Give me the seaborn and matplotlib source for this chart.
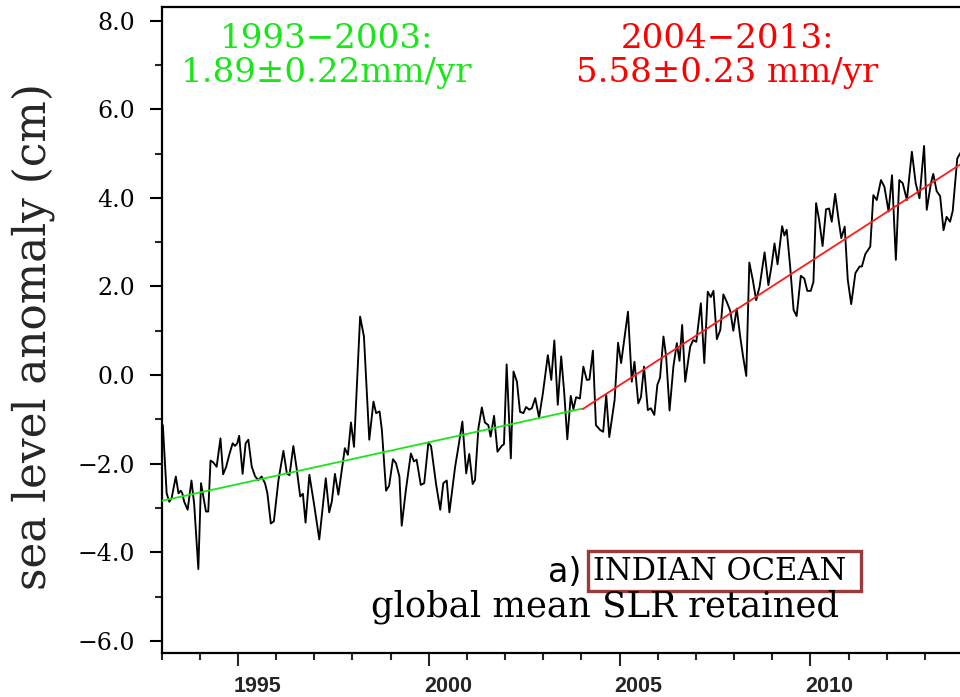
import matplotlib
matplotlib.use("Agg")
import matplotlib.pyplot as plt
import numpy as np
import pandas as pd
import seaborn as sns
from matplotlib.ticker import MultipleLocator, FixedLocator, FuncFormatter

# Indian Ocean sea level anomaly (cm), global mean SLR retained
years = [
    1993.03, 1993.13, 1993.20, 1993.26, 1993.37, 1993.44, 1993.50, 1993.54, 1993.59, 1993.68,
    1993.78, 1993.85, 1993.96, 1994.03, 1994.16, 1994.22, 1994.28, 1994.35, 1994.44, 1994.54,
    1994.61, 1994.69, 1994.77, 1994.86, 1994.92, 1994.98, 1995.03, 1995.12, 1995.20, 1995.27,
    1995.36, 1995.45, 1995.53, 1995.62, 1995.71, 1995.77, 1995.86, 1995.94, 1996.06, 1996.19,
    1996.28, 1996.35, 1996.45, 1996.54, 1996.63, 1996.70, 1996.77, 1996.87, 1996.99, 1997.13,
    1997.30, 1997.39, 1997.46, 1997.54, 1997.63, 1997.74, 1997.80, 1997.88, 1997.96, 1998.04,
    1998.20, 1998.30, 1998.44, 1998.55, 1998.62, 1998.71, 1998.77, 1998.88, 1998.96, 1999.06,
    1999.14, 1999.23, 1999.29, 1999.40, 1999.53, 1999.61, 1999.68, 1999.79, 1999.88, 1999.99,
    2000.06, 2000.19, 2000.30, 2000.38, 2000.47, 2000.54, 2000.69, 2000.77, 2000.88, 2000.98,
    2001.06, 2001.15, 2001.21, 2001.30, 2001.39, 2001.47, 2001.56, 2001.62, 2001.71, 2001.80,
    2001.91, 2001.97, 2002.04, 2002.15, 2002.22, 2002.31, 2002.39, 2002.48, 2002.55, 2002.63,
    2002.70, 2002.79, 2002.89, 2002.99, 2003.12, 2003.21, 2003.29, 2003.38, 2003.47, 2003.55,
    2003.63, 2003.72, 2003.79, 2003.86, 2003.96, 2004.05, 2004.14, 2004.21, 2004.30, 2004.38,
    2004.49, 2004.57, 2004.65, 2004.73, 2004.87, 2004.96, 2005.04, 2005.13, 2005.22, 2005.32,
    2005.39, 2005.49, 2005.56, 2005.64, 2005.74, 2005.82, 2005.91, 2005.99, 2006.06, 2006.15,
    2006.22, 2006.31, 2006.41, 2006.50, 2006.57, 2006.64, 2006.72, 2006.85, 2006.93, 2007.01,
    2007.13, 2007.22, 2007.31, 2007.39, 2007.46, 2007.55, 2007.64, 2007.72, 2007.81, 2007.90,
    2007.98, 2008.07, 2008.16, 2008.24, 2008.32, 2008.40, 2008.49, 2008.58, 2008.67, 2008.80,
    2008.90, 2008.98, 2009.06, 2009.14, 2009.26, 2009.32, 2009.38, 2009.47, 2009.56, 2009.64,
    2009.75, 2009.84, 2009.92, 2010.01, 2010.08, 2010.15, 2010.23, 2010.32, 2010.41, 2010.49,
    2010.56, 2010.65, 2010.74, 2010.81, 2010.90, 2010.98, 2011.07, 2011.18, 2011.29, 2011.35,
    2011.44, 2011.57, 2011.65, 2011.74, 2011.85, 2011.94, 2012.05, 2012.14, 2012.24, 2012.33,
    2012.42, 2012.53, 2012.66, 2012.76, 2012.86, 2012.98, 2013.05, 2013.16, 2013.22, 2013.31,
    2013.40, 2013.49, 2013.57, 2013.66, 2013.73, 2013.85, 2013.93,
]
anomaly = [
    -1.13, -2.67, -2.86, -2.78, -2.29, -2.67, -2.61, -2.67, -2.86, -3.04,
    -2.38, -2.90, -4.38, -2.44, -3.08, -3.08, -1.93, -1.97, -2.07, -1.43,
    -2.24, -2.07, -1.80, -1.54, -1.60, -1.54, -1.37, -2.23, -1.54, -1.46,
    -2.07, -2.29, -2.37, -2.29, -2.45, -2.67, -3.35, -3.30, -2.37, -1.71,
    -2.22, -2.26, -1.60, -2.13, -2.74, -2.68, -3.33, -2.25, -2.90, -3.71,
    -2.33, -3.10, -2.85, -2.23, -2.70, -2.03, -1.65, -1.80, -1.07, -1.62,
    1.32, 0.87, -1.46, -0.60, -0.86, -0.82, -1.24, -2.61, -2.50, -1.90,
    -1.99, -2.29, -3.40, -2.59, -1.77, -1.95, -1.91, -2.48, -2.44, -1.52,
    -1.61, -2.46, -3.04, -2.44, -2.38, -3.10, -2.07, -1.65, -1.05, -2.22,
    -1.78, -2.46, -2.37, -1.20, -0.73, -1.07, -1.13, -1.39, -0.92, -1.73,
    -1.60, -1.56, 0.24, -1.88, 0.08, -0.15, -0.83, -0.86, -0.72, -0.78,
    -0.75, -0.52, -0.96, -0.41, 0.45, -0.11, 0.78, -0.67, 0.42, -0.41,
    -1.45, -0.47, -0.77, -0.50, -0.53, 0.19, -0.11, -0.10, 0.55, -1.13,
    -1.24, -1.28, -0.45, -1.40, -0.56, 0.73, 0.27, 0.85, 1.43, -0.15,
    0.30, -0.64, -0.50, 0.19, -0.79, -0.75, -0.90, -0.22, -0.06, 0.87,
    0.42, -0.80, 0.19, 0.72, 0.32, 1.13, -0.15, 0.64, 0.79, 0.75,
    1.62, 0.27, 1.88, 1.76, 1.90, 0.81, 1.02, 1.82, 1.65, 1.45,
    1.00, 1.50, 0.87, 0.40, -0.02, 2.54, 2.15, 1.69, 2.00, 2.77,
    2.03, 2.45, 2.97, 2.50, 3.36, 3.15, 3.28, 2.45, 1.47, 1.33,
    2.24, 2.18, 1.90, 1.90, 2.10, 3.88, 3.50, 2.91, 3.74, 3.76,
    3.46, 4.09, 3.50, 3.09, 3.35, 2.15, 1.60, 2.30, 2.45, 2.45,
    2.73, 2.90, 4.06, 3.95, 4.40, 4.25, 3.69, 4.51, 2.60, 4.40,
    4.33, 3.95, 5.04, 4.33, 3.99, 5.17, 3.73, 4.33, 4.54, 4.15,
    4.04, 3.27, 3.57, 3.46, 3.70, 4.89, 5.01,
]

# Linear trends for the two periods
period_labels = ["1993\u22122003:", "2004\u22122013:"]
rate_labels = ["1.89\u00b10.22mm/yr", "5.58\u00b10.23 mm/yr"]
rates_mm_per_yr = [1.89, 5.58]
trend_start_year = [1993.0, 2004.03]
trend_end_year = [2004.0, 2013.93]
trend_start_cm = [-2.84, -0.77]
trend_colors = ["#19e619", "#ff1a1a"]
text_colors = ["#19e619", "#ff0000"]

year_ticks = [1995, 2000, 2005, 2010]

sns.set_style("ticks")
plt.rcParams["font.family"] = ["DejaVu Serif", "DejaVu Sans"]
plt.rcParams["axes.unicode_minus"] = True

fig = plt.figure(figsize=(9.6, 6.97), dpi=100)
W, H = 960.0, 697.0
x0, x1, y0, y1 = 161.7, 963.0, 653.3, 7.3
ax = fig.add_axes([x0 / W, 1 - y0 / H, (x1 - x0) / W, (y0 - y1) / H])

series = pd.DataFrame({"year": years, "sla": anomaly})
sns.lineplot(data=series, x="year", y="sla", ax=ax, color="black",
             linewidth=1.35, estimator=None, sort=False, zorder=3)

trend_rows = []
for i in range(2):
    for yr in (trend_start_year[i], trend_end_year[i]):
        val = trend_start_cm[i] + rates_mm_per_yr[i] / 10.0 * (yr - trend_start_year[i])
        trend_rows.append({"year": yr, "sla": val, "period": period_labels[i]})
trends = pd.DataFrame(trend_rows)
sns.lineplot(data=trends, x="year", y="sla", hue="period", palette=trend_colors,
             ax=ax, linewidth=1.3, estimator=None, legend=False, zorder=4)

ax.set_xlim(1993.0, 2014.0)
ax.set_ylim(-6.28, 8.3)
ax.set_xlabel("")
ax.set_ylabel("sea level anomaly (cm)", fontsize=31.5, family="DejaVu Serif")
ax.yaxis.set_label_coords((33 - x0) / (x1 - x0), (y0 - 336) / (y0 - y1))
ax.yaxis.label.set_verticalalignment("center")

for side in ("left", "bottom", "top"):
    ax.spines[side].set_linewidth(1.6)
    ax.spines[side].set_color("black")
ax.spines["right"].set_visible(False)

# y axis: major every 2 cm, minor every 1 cm
ax.yaxis.set_major_locator(MultipleLocator(2.0))
ax.yaxis.set_minor_locator(MultipleLocator(1.0))
ax.yaxis.set_major_formatter(FuncFormatter(lambda v, p: f"{v:.1f}".replace("-", "\u2212")))
ax.tick_params(axis="y", which="major", direction="out", length=9, width=1.5,
               pad=10, labelsize=17, colors="black")
ax.tick_params(axis="y", which="minor", direction="out", length=5, width=1.5)

# x axis: year ticks, long ticks every five years, labels centred in the year
ax.xaxis.set_major_locator(FixedLocator(year_ticks))
ax.xaxis.set_minor_locator(MultipleLocator(1.0))
ax.xaxis.set_major_formatter(FuncFormatter(lambda v, p: ""))
ax.tick_params(axis="x", which="major", direction="out", length=9, width=1.5)
ax.tick_params(axis="x", which="minor", direction="out", length=5, width=1.5)
ax.tick_params(top=False, right=False, which="both")

sec = ax.secondary_xaxis("bottom")
sec.set_xticks([y + 0.5 for y in year_ticks])
sec.set_xticklabels([str(y) for y in year_ticks], fontfamily="Liberation Sans",
                    fontweight="bold", fontsize=15.5)
sec.tick_params(length=0, pad=16)
sec.spines["bottom"].set_visible(False)

# trend annotations
text_x = [1997.33, 2007.82]
for i in range(2):
    ax.text(text_x[i], 7.58, period_labels[i], color=text_colors[i], fontsize=24.5,
            ha="center", va="center", family="DejaVu Serif")
    ax.text(text_x[i], 6.82, rate_labels[i], color=text_colors[i], fontsize=24.5,
            ha="center", va="center", family="DejaVu Serif")

ax.text(2003.55, -4.45, "a)", fontsize=24, ha="center", va="center",
        family="DejaVu Sans", color="black")
ax.text(2007.75, -4.43, "INDIAN OCEAN ", fontsize=22, ha="center", va="center",
        family="DejaVu Serif", color="black",
        bbox=dict(boxstyle="square,pad=0.15", facecolor="white",
                  edgecolor="#9a3a3a", linewidth=2.4))
ax.text(2004.63, -5.24, "global mean SLR retained", fontsize=25.5, ha="center",
        va="center", family="DejaVu Serif", color="black")

fig.savefig("out.png", dpi=100, facecolor="white")
